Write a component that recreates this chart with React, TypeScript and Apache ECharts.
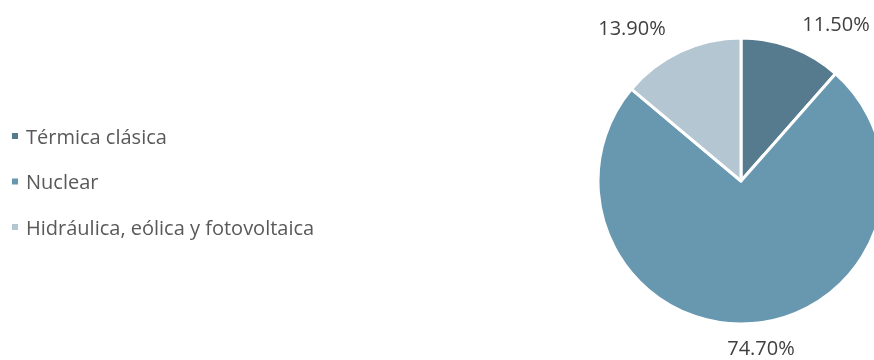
import React, { useEffect, useRef } from "react";
import * as echarts from "echarts";

const categories = ["Térmica clásica", "Nuclear", "Hidráulica, eólica y fotovoltaica"];
const values = [11.5, 74.7, 13.9];
const colors = ["#567b8f", "#6897b0", "#b4c6d2"];
const labelPos = [
  [836, 23],
  [761, 347],
  [632, 27],
];

export default function App() {
  const ref = useRef<HTMLDivElement>(null);
  useEffect(() => {
    const chart = echarts.init(ref.current!, null, { renderer: "svg" });
    chart.setOption({
      animation: false,
      textStyle: { fontFamily: "Open Sans" },
      legend: {
        orient: "vertical",
        left: 10,
        top: 124,
        padding: 0,
        icon: "rect",
        itemWidth: 8,
        itemHeight: 8,
        itemGap: 21.5,
        data: categories,
        textStyle: {
          fontSize: 20,
          color: "#595959",
          lineHeight: 24,
          fontFamily: "Open Sans",
          padding: [0, 0, 0, 2],
        },
      },
      series: [
        {
          type: "pie",
          center: [741, 181],
          radius: 143,
          startAngle: 90,
          clockwise: true,
          data: categories.map((c, i) => ({
            name: c,
            value: values[i],
            itemStyle: { color: colors[i] },
          })),
          itemStyle: { borderColor: "#ffffff", borderWidth: 3 },
          label: {
            show: true,
            position: "outside",
            formatter: (p: any) => values[p.dataIndex].toFixed(2) + "%",
            fontSize: 20,
            lineHeight: 20,
            color: "#404040",
            fontFamily: "Open Sans",
            overflow: "none",
            width: 100,
          },
          labelLine: { show: false },
          labelLayout: (p: any) => ({
            x: labelPos[p.dataIndex][0],
            y: labelPos[p.dataIndex][1],
            align: "center",
            verticalAlign: "middle",
          }),
        },
      ],
    });
    return () => chart.dispose();
  }, []);
  return <div ref={ref} style={{ position: "fixed", left: 0, top: 0, width: 874, height: 360 }} />;
}
